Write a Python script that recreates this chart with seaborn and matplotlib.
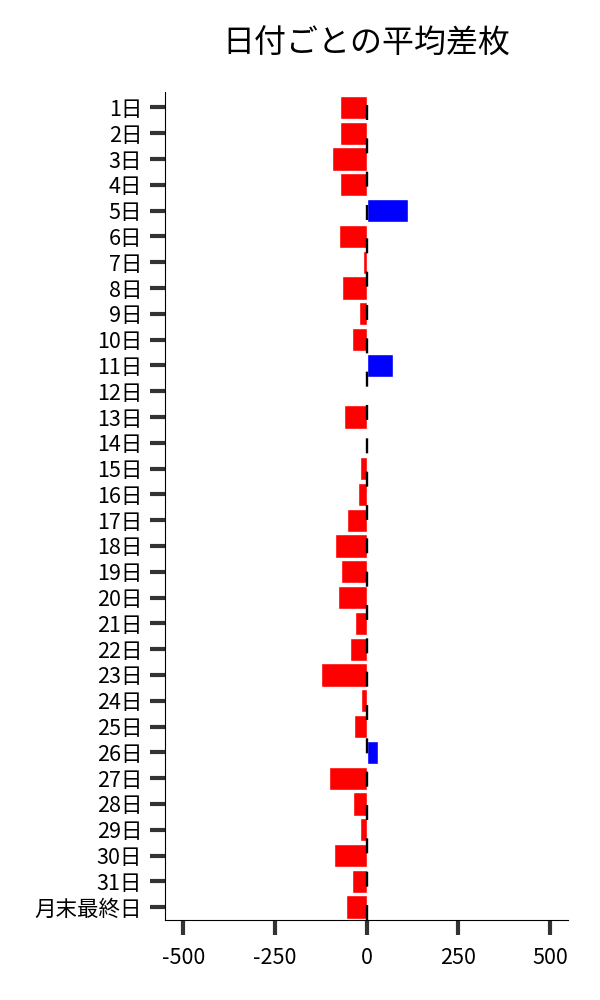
import numpy as np
import pandas as pd
import seaborn as sns
import matplotlib
matplotlib.use("Agg")
import matplotlib.pyplot as plt

# データ
days = [f"{i}日" for i in range(1, 32)] + ["月末最終日"]
avg_diff = [-73, -73, -95, -73, 114, -76, -11, -68, -22, -41,
            73, 2, -62, -3, -19, -24, -54, -87, -71, -79,
            -33, -46, -125, -14, -35, 30, -103, -38, -19, -90,
            -41, -57]

df = pd.DataFrame({"day": days, "diff": avg_diff})
df["sign"] = np.where(df["diff"] >= 0, "plus", "minus")

sns.set_style("ticks")
plt.rcParams["font.family"] = ["Noto Sans CJK JP", "DejaVu Sans"]
plt.rcParams["axes.unicode_minus"] = False
plt.rcParams["text.color"] = "black"

fig, ax = plt.subplots(figsize=(6, 10), dpi=100)
fig.subplots_adjust(left=0.275, right=0.947, bottom=0.08, top=0.908)

sns.barplot(data=df, x="diff", y="day", hue="sign", orient="h",
            palette={"plus": "blue", "minus": "red"}, saturation=1,
            width=0.9, dodge=False, legend=False, ax=ax)

# 0 の点線
zero = ax.axvline(0, color="black", lw=1.7, zorder=5)
zero.set_dashes((10.8 / 1.7, 13.2 / 1.7))

ax.set_xlim(-550, 550)
ax.set_ylim(31.5, -0.6)
ax.set_xticks([-500, -250, 0, 250, 500])
ax.set_xlabel("")
ax.set_ylabel("")
ax.set_title("日付ごとの平均差枚", fontsize=23, pad=28, color="black")

ax.tick_params(axis="both", length=10.5, width=3, color="#333333",
               labelsize=15.5, labelcolor="black", pad=6)
ax.tick_params(axis="x", pad=9)
for s in ["left", "bottom"]:
    ax.spines[s].set_color("black")
    ax.spines[s].set_linewidth(0.8)
sns.despine(ax=ax)

plt.savefig("out.png")
